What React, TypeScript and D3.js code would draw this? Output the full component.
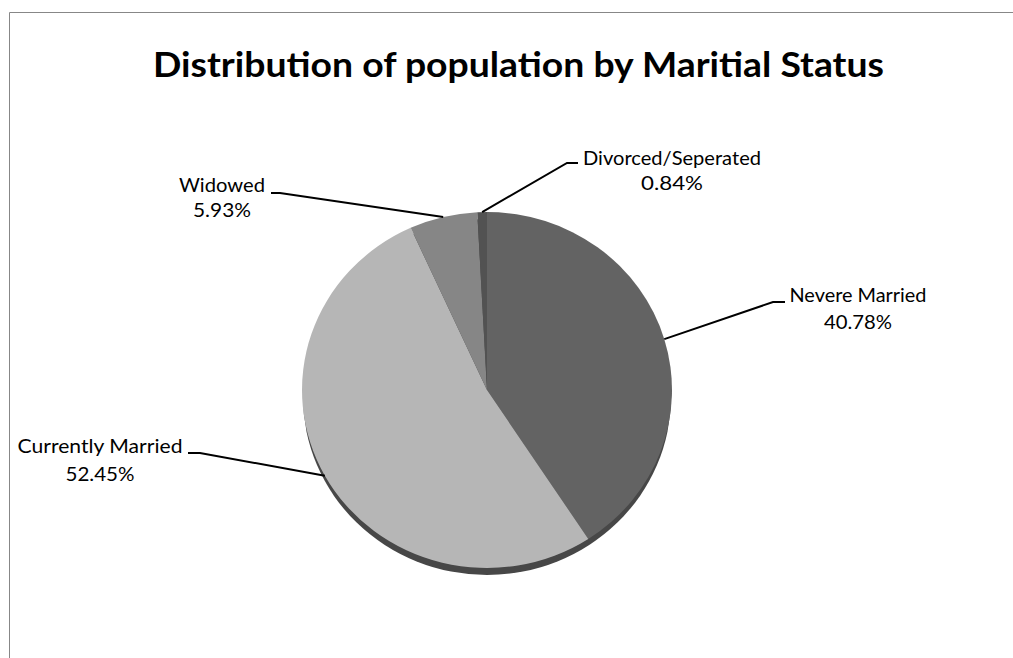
import React from "react";
import * as d3 from "d3";

const categories = ["Nevere Married", "Currently Married", "Widowed", "Divorced/Seperated"];
const values = [40.78, 52.45, 5.93, 0.84];
const percentLabels = ["40.78%", "52.45%", "5.93%", "0.84%"];
const title = "Distribution of population by Maritial Status";

// layout (not data)
const W = 1013, H = 658;
const CX = 487, CY = 390, RX = 185, RY = 178, DEPTH = 7;
const sliceColors = [
  ["#636363", "#5a5a5a"],
  ["#b6b6b6", "#a8a8a8"],
  ["#868686", "#7e7e7e"],
  ["#525252", "#4c4c4c"],
];
// label layout: centre x, first-line baseline, second-line baseline, elbow start x, elbow end x, elbow y, line widths
const labelLayout = [
  { cx: 858, y1: 301.5, y2: 329, ex0: 785, ex1: 773, ey: 302, w1: 137, w2: 68 },
  { cx: 100, y1: 453, y2: 481, ex0: 188, ex1: 200, ey: 453, w1: 165, w2: 69 },
  { cx: 222, y1: 191.5, y2: 216.5, ex0: 271, ex1: 280, ey: 193, w1: 86, w2: 58 },
  { cx: 672, y1: 165, y2: 190, ex0: 578, ex1: 567, ey: 163, w1: 178, w2: 62 },
];

export default function App() {
  const pie = d3.pie<number>().sort(null).value((d) => d);
  const arcs = pie(values);
  const arc = d3.arc<d3.PieArcDatum<number>>().innerRadius(0).outerRadius(RY);
  const sx = RX / RY;
  const labelFont = "Lato, 'Open Sans', 'Noto Sans', sans-serif";
  return (
    <svg
      width={W}
      height={H}
      style={{ position: "absolute", left: 0, top: 0, background: "#fff" }}
    >
      <defs>
        {sliceColors.map((c, i) => (
          <linearGradient
            key={i}
            id={`g${i}`}
            gradientUnits="userSpaceOnUse"
            x1={CX - RX}
            y1={CY}
            x2={CX + RX}
            y2={CY}
          >
            <stop offset="0" stopColor={c[0]} />
            <stop offset="1" stopColor={c[1]} />
          </linearGradient>
        ))}
      </defs>
      <rect x={0} y={0} width={W} height={H} fill="#fff" />
      {/* chart border */}
      <path d={`M9.5,${H + 2} V12.5 H${W + 2}`} fill="none" stroke="#878787" strokeWidth={1} />
      <text
        x={518.5}
        y={77}
        textAnchor="middle"
        fontFamily="Lato, 'Open Sans', 'Noto Sans', sans-serif"
        fontWeight="bold"
        fontSize={35}
        textLength={731}
        lengthAdjust="spacingAndGlyphs"
        fill="#000"
      >
        {title}
      </text>
      {/* pie depth */}
      <ellipse cx={CX} cy={CY + DEPTH} rx={RX - 1} ry={RY} fill="#474747" />
      <g transform={`translate(${CX},${CY}) scale(${sx},1)`}>
        {arcs.map((a, i) => (
          <path key={i} d={arc(a) || ""} fill={`url(#g${i})`} />
        ))}
      </g>
      {arcs.map((a, i) => {
        const mid = (a.startAngle + a.endAngle) / 2;
        const px = CX + RX * Math.sin(mid);
        const py = CY - RY * Math.cos(mid);
        const L = labelLayout[i];
        return (
          <g key={i}>
            <polyline
              points={`${L.ex0},${L.ey} ${L.ex1},${L.ey} ${px},${py}`}
              fill="none"
              stroke="#000"
              strokeWidth={2}
            />
            <text
              x={L.cx}
              y={L.y1}
              textAnchor="middle"
              fontFamily={labelFont}
              fontSize={19}
              textLength={L.w1}
              lengthAdjust="spacingAndGlyphs"
              fill="#000"
            >
              {categories[i]}
            </text>
            <text
              x={L.cx}
              y={L.y2}
              textAnchor="middle"
              fontFamily={labelFont}
              fontSize={19}
              textLength={L.w2}
              lengthAdjust="spacingAndGlyphs"
              fill="#000"
            >
              {percentLabels[i]}
            </text>
          </g>
        );
      })}
    </svg>
  );
}
